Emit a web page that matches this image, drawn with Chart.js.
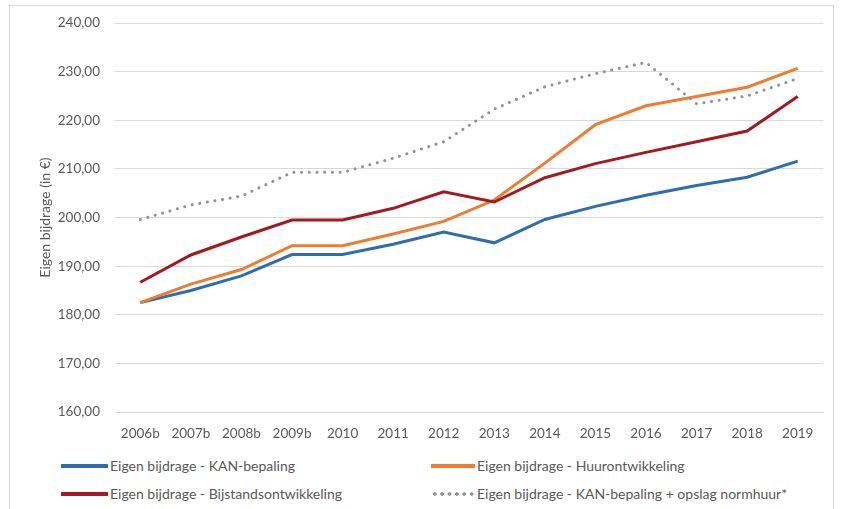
<!DOCTYPE html>
<html>
<head>
<meta charset="utf-8">
<script src="https://cdn.jsdelivr.net/npm/chart.js@4"></script>
<style>
  html, body { margin: 0; padding: 0; background: #fff; overflow: hidden; }
  #wrap { position: relative; width: 844px; height: 509px; }
  #frame { position: absolute; left: 9px; top: 5px; width: 823px; height: 520px; border: 1px solid #d9d9d9; }
  #myChart { position: absolute; left: 0; top: 0; }
  .leg { position: absolute; font-family: Lato, sans-serif; font-size: 14px; color: #595959; white-space: nowrap; line-height: 16px; }
  .leg .sw { display: inline-block; vertical-align: middle; height: 4px; margin-right: 2px; position: relative; top: -1px; }
  .dots { background-image: radial-gradient(circle, #929292 1.5px, transparent 1.9px); background-size: 7.4px 4px; background-position: 0 0; }
</style>
</head>
<body>
<div id="wrap">
  <div id="frame"></div>
  <canvas id="myChart" width="844" height="450"></canvas>
  <div id="legend"></div>
</div>
<script>
const labels = ["2006b","2007b","2008b","2009b","2010","2011","2012","2013","2014","2015","2016","2017","2018","2019"];

const kanBepaling = [182.5,185.0,188.0,192.4,192.4,194.5,197.0,194.8,199.6,202.3,204.6,206.6,208.3,211.6];
const huurOntwikkeling = [182.5,186.3,189.3,194.2,194.2,196.6,199.2,203.6,211.2,219.1,223.0,224.9,226.8,230.7];
const bijstandOntwikkeling = [186.7,192.3,196.0,199.5,199.5,201.9,205.3,203.2,208.2,211.1,213.4,215.6,217.8,224.9];
const kanOpslagNormhuur = [199.6,202.6,204.4,209.3,209.3,212.2,215.6,222.3,226.9,229.6,231.9,223.4,225.0,228.6];

const seriesNames = [
  "Eigen bijdrage - KAN-bepaling",
  "Eigen bijdrage - Huurontwikkeling",
  "Eigen bijdrage - Bijstandsontwikkeling",
  "Eigen bijdrage - KAN-bepaling + opslag normhuur*"
];
const colors = ["#2e6db2", "#ed7d31", "#a31a20", "#929292"];

const yTicks = { min: 160, max: 240, step: 10 };

const textColor = "#595959";
const fontFamily = "Lato, sans-serif";

const ctx = document.getElementById("myChart").getContext("2d");

new Chart(ctx, {
  type: "line",
  data: {
    labels: labels,
    datasets: [
      { label: seriesNames[0], data: kanBepaling, borderColor: colors[0], borderWidth: 3, pointRadius: 0, order: 3 },
      { label: seriesNames[1], data: huurOntwikkeling, borderColor: colors[1], borderWidth: 3, pointRadius: 0, order: 2 },
      { label: seriesNames[2], data: bijstandOntwikkeling, borderColor: colors[2], borderWidth: 3, pointRadius: 0, order: 1 },
      { label: seriesNames[3], data: kanOpslagNormhuur, borderColor: colors[3], borderWidth: 3, pointRadius: 0,
        borderDash: [0.1, 7.6], borderCapStyle: "round", order: 0 }
    ]
  },
  options: {
    responsive: false,
    animation: false,
    devicePixelRatio: 1,
    layout: { padding: { left: 37, right: 21, top: 23, bottom: 0 } },
    plugins: {
      legend: { display: false },
      tooltip: { enabled: false }
    },
    scales: {
      x: {
        offset: true,
        grid: { display: false, drawTicks: false },
        border: { display: true, color: "#d9d9d9", width: 1 },
        ticks: { color: textColor, font: { family: fontFamily, size: 13.5 }, padding: 14, maxRotation: 0, autoSkip: false },
        afterFit: function (s) { s.height = 38; }
      },
      y: {
        min: yTicks.min,
        max: yTicks.max,
        grid: { color: "#d9d9d9", drawTicks: false },
        border: { display: false },
        ticks: {
          stepSize: yTicks.step,
          color: textColor,
          font: { family: fontFamily, size: 13.5 },
          padding: 15,
          callback: function (v) { return v.toFixed(2).replace(".", ","); }
        },
        title: { display: true, text: "Eigen bijdrage (in €)", color: textColor, font: { family: fontFamily, size: 14 }, padding: 0 },
        afterFit: function (s) { s.width = 78; }
      }
    }
  }
});

// legend in two columns, like the original
const legendPos = [
  { x: 61, y: 458, w: 47, dotted: false },
  { x: 431, y: 458, w: 44, dotted: false },
  { x: 61, y: 486, w: 47, dotted: false },
  { x: 431, y: 486, w: 44, dotted: true }
];
const legendEl = document.getElementById("legend");
seriesNames.forEach(function (name, i) {
  const p = legendPos[i];
  const item = document.createElement("div");
  item.className = "leg";
  item.style.left = p.x + "px";
  item.style.top = p.y + "px";
  const sw = document.createElement("span");
  sw.className = "sw" + (p.dotted ? " dots" : "");
  sw.style.width = p.w + "px";
  if (!p.dotted) sw.style.background = colors[i];
  item.appendChild(sw);
  item.appendChild(document.createTextNode(name));
  legendEl.appendChild(item);
});
</script>
</body>
</html>
